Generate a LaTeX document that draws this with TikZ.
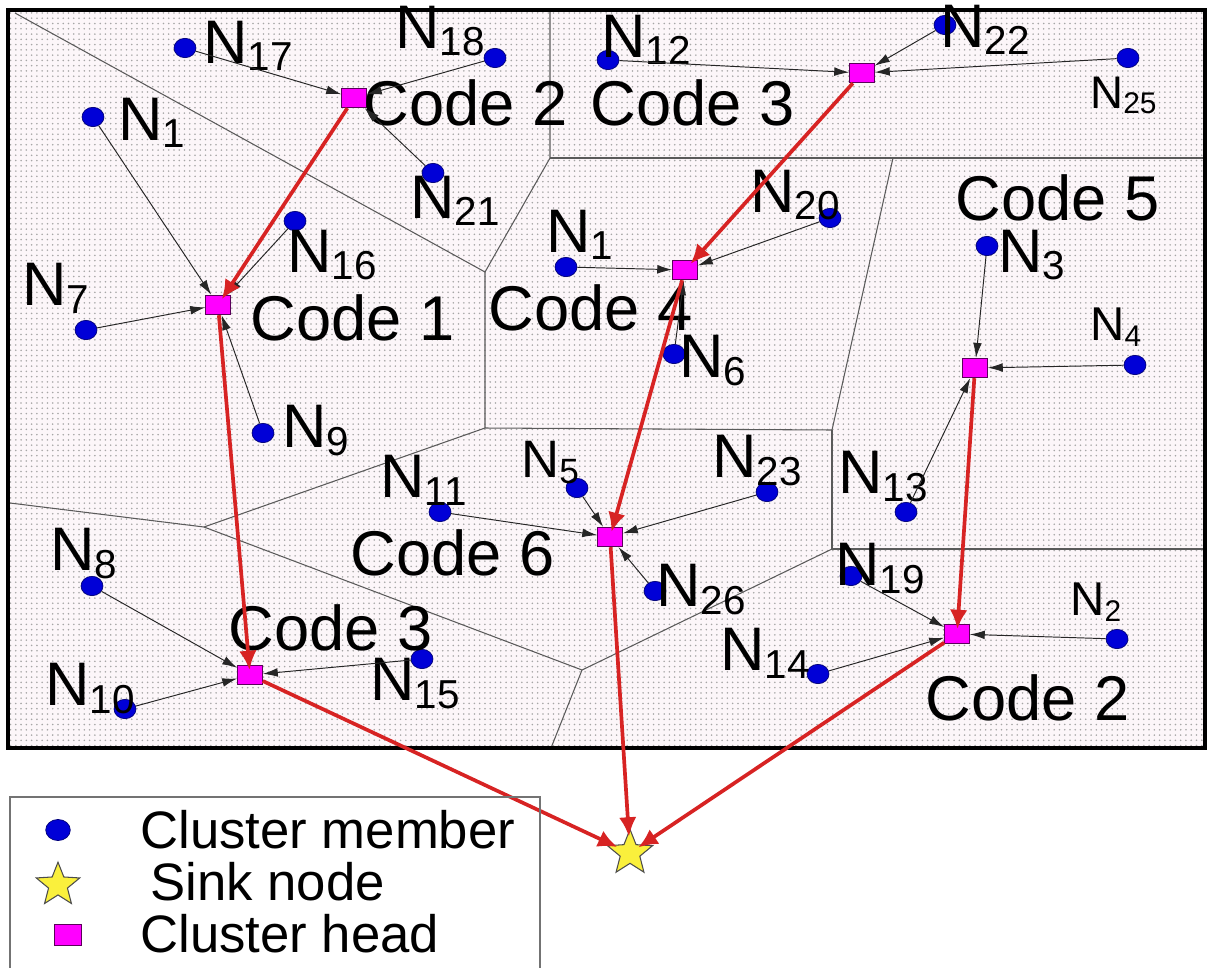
\documentclass[tikz,border=0pt]{standalone}
\usepackage{fontspec}
\setmainfont{Liberation Sans}
\usetikzlibrary{arrows.meta,shapes.geometric,patterns}
\definecolor{memblue}{RGB}{0,0,215}
\definecolor{memedge}{RGB}{0,0,120}
\definecolor{chfill}{RGB}{255,0,255}
\definecolor{chedge}{RGB}{90,0,90}
\definecolor{redarr}{RGB}{215,35,35}
\definecolor{bgfill}{RGB}{252,246,249}
\definecolor{vorline}{RGB}{90,90,90}
\definecolor{starfill}{RGB}{250,240,60}
\newcommand\nlab[3]{\fontsize{#1pt}{#1pt}\selectfont N\raisebox{-0.13em}{\fontsize{#2pt}{#2pt}\selectfont #3}}
\tikzset{
  member/.style={ellipse, fill=memblue, draw=memedge, line width=0.4pt, minimum width=12.5pt, minimum height=11pt, inner sep=0pt},
  chead/.style={rectangle, fill=chfill, draw=chedge, line width=0.6pt, minimum width=14pt, minimum height=11pt, inner sep=0pt},
  sink/.style={star, star points=5, star point ratio=2.3, fill=starfill, draw=black!70, line width=0.6pt, minimum size=27pt, inner sep=0pt},
  lab/.style={anchor=base west, inner sep=0pt, text=black},
  codelab/.style={anchor=base west, inner sep=0pt, font=\fontsize{36pt}{36pt}\selectfont},
  leglab/.style={anchor=base west, inner sep=0pt, font=\fontsize{30pt}{30pt}\selectfont},
  memarr/.style={draw=black!85, line width=0.55pt, -{Latex[length=8.5pt,width=5pt]}},
  redarrow/.style={draw=redarr, line width=2.1pt, -{Latex[length=11pt,width=10pt]}, shorten >=-3pt},
  vor/.style={draw=vorline, line width=0.6pt}
}
\begin{document}
\begin{tikzpicture}[x=0.02cm, y=-0.02cm]
\useasboundingbox (0,0) rectangle (1210,967);
% field background
\fill[bgfill] (8,10) rectangle (1205,748);
\fill[pattern=dots, pattern color=black!35] (8,10) rectangle (1205,748);
% Voronoi boundaries
\draw[vor] (15,13) -- (485,272) -- (550,158) -- (550,10);
\draw[vor] (550,158) -- (1205,158);
\draw[vor] (485,272) -- (485,428) -- (832,430) -- (893,158);
\draw[vor] (832,430) -- (832,549) -- (1205,549);
\draw[vor] (10,503) -- (204,527) -- (485,428);
\draw[vor] (204,527) -- (582,670) -- (832,549);
\draw[vor] (582,670) -- (551,748);
% frame
\draw[line width=2.8pt] (8,10) rectangle (1205,748);
% cluster heads
\node[chead] (chA) at (354,98) {};
\node[chead] (chB) at (862,73) {};
\node[chead] (chC) at (218,305) {};
\node[chead] (chD) at (685,270) {};
\node[chead] (chE) at (975,368) {};
\node[chead] (chF) at (610,537) {};
\node[chead] (chG) at (250,675) {};
\node[chead] (chH) at (957,634) {};
\node[sink] (sink) at (630,853) {};
% members
\node[member] (m17) at (185,48) {};
\node[member] (m18) at (495,58) {};
\node[member] (m1a) at (93,117) {};
\node[member] (m21) at (433,173) {};
\node[member] (m16) at (295,221) {};
\node[member] (m7) at (86,330) {};
\node[member] (m9) at (263,433) {};
\node[member] (m12) at (608,60) {};
\node[member] (m22) at (945,25) {};
\node[member] (m25) at (1128,58) {};
\node[member] (m1b) at (566,267) {};
\node[member] (m20) at (830,218) {};
\node[member] (m6) at (674,354) {};
\node[member] (m3) at (987,246) {};
\node[member] (m4) at (1135,365) {};
\node[member] (m5) at (577,488) {};
\node[member] (m11) at (440,512) {};
\node[member] (m23) at (767,492) {};
\node[member] (m13) at (906,512) {};
\node[member] (m26) at (655,591) {};
\node[member] (m19) at (851,576) {};
\node[member] (m2) at (1117,639) {};
\node[member] (m14) at (818,674) {};
\node[member] (m8) at (92,586) {};
\node[member] (m10) at (125,709) {};
\node[member] (m15) at (422,659) {};
% member labels
\node[lab] (l17) at (203,63) {\nlab{35}{23}{17}};
\node[lab] (l18) at (395,48) {\nlab{35}{23}{18}};
\node[lab] (l1a) at (118,140) {\nlab{35}{23}{1}};
\node[lab] (l21) at (410,218) {\nlab{35}{23}{21}};
\node[lab] (l16) at (287,272) {\nlab{35}{23}{16}};
\node[lab] (l7) at (22,305) {\nlab{35}{23}{7}};
\node[lab] (l9) at (282,447) {\nlab{35}{23}{9}};
\node[lab] (l12) at (601,57) {\nlab{35}{23}{12}};
\node[lab] (l22) at (940,47) {\nlab{35}{23}{22}};
\node[lab] (l25) at (1090,108) {\nlab{26}{17}{25}};
\node[lab] (l1b) at (546,252) {\nlab{35}{23}{1}};
\node[lab] (l20) at (750,212) {\nlab{35}{23}{20}};
\node[lab] (l6) at (679,377) {\nlab{35}{23}{6}};
\node[lab] (l3) at (998,272) {\nlab{35}{23}{3}};
\node[lab] (l4) at (1090,340) {\nlab{27}{17}{4}};
\node[lab] (l5) at (521,477) {\nlab{30}{20}{5}};
\node[lab] (l11) at (380,497) {\nlab{35}{23}{11}};
\node[lab] (l23) at (712,477) {\nlab{35}{23}{23}};
\node[lab] (l13) at (838,493) {\nlab{35}{23}{13}};
\node[lab] (l26) at (656,606) {\nlab{35}{23}{26}};
\node[lab] (l19) at (835,585) {\nlab{35}{23}{19}};
\node[lab] (l2) at (1070,615) {\nlab{27}{17}{2}};
\node[lab] (l14) at (720,670) {\nlab{35}{23}{14}};
\node[lab] (l8) at (50,570) {\nlab{35}{23}{8}};
\node[lab] (l10) at (45,705) {\nlab{35}{23}{10}};
\node[lab] (l15) at (370,700) {\nlab{35}{23}{15}};
% code labels
\node[codelab] (cA) at (363,125) {Code 2};
\node[codelab] (cB) at (590,125) {Code 3};
\node[codelab] (cC) at (250,340) {Code 1};
\node[codelab] (cD) at (488,330) {Code 4};
\node[codelab] (cE) at (955,220) {Code 5};
\node[codelab] (cF) at (350,575) {Code 6};
\node[codelab] (cG) at (228,650) {Code 3};
\node[codelab] (cH) at (925,720) {Code 2};
% member -> head
\draw[memarr] (m17) -- (chA);
\draw[memarr] (m18) -- (chA);
\draw[memarr] (m21) -- (chA);
\draw[memarr] (m1a) -- (chC);
\draw[memarr] (m16) -- (chC);
\draw[memarr] (m7) -- (chC);
\draw[memarr] (m9) -- (chC);
\draw[memarr] (m12) -- (chB);
\draw[memarr] (m22) -- (chB);
\draw[memarr] (m25) -- (chB);
\draw[memarr] (m1b) -- (chD);
\draw[memarr] (m20) -- (chD);
\draw[memarr] (m6) -- (chD);
\draw[memarr] (m3) -- (chE);
\draw[memarr] (m4) -- (chE);
\draw[memarr] (m13) -- (chE);
\draw[memarr] (m5) -- (chF);
\draw[memarr] (m11) -- (chF);
\draw[memarr] (m23) -- (chF);
\draw[memarr] (m26) -- (chF);
\draw[memarr] (m19) -- (chH);
\draw[memarr] (m14) -- (chH);
\draw[memarr] (m2) -- (chH);
\draw[memarr] (m8) -- (chG);
\draw[memarr] (m10) -- (chG);
\draw[memarr] (m15) -- (chG);
% head -> head / sink
\draw[redarrow] (chA) -- (chC);
\draw[redarrow] (chB) -- (chD);
\draw[redarrow] (chC) -- (chG);
\draw[redarrow] (chD) -- (chF);
\draw[redarrow] (chE) -- (chH);
\draw[redarrow] (chG) -- (sink);
\draw[redarrow] (chF) -- (sink);
\draw[redarrow] (chH) -- (sink);
% legend
\draw[draw=black!55, line width=0.6pt] (10,975) -- (10,797) -- (540,797) -- (540,975);
\node[member, minimum width=14pt, minimum height=12pt] (lgm) at (58,830) {};
\node[sink, minimum size=26pt] (lgs) at (58,885) {};
\node[chead, minimum width=15pt, minimum height=12pt] (lgc) at (68,935) {};
\node[leglab] (tm) at (140,848) {Cluster member};
\node[leglab] (ts) at (150,900) {Sink node};
\node[leglab] (tc) at (140,952) {Cluster head};
\end{tikzpicture}
\end{document}
